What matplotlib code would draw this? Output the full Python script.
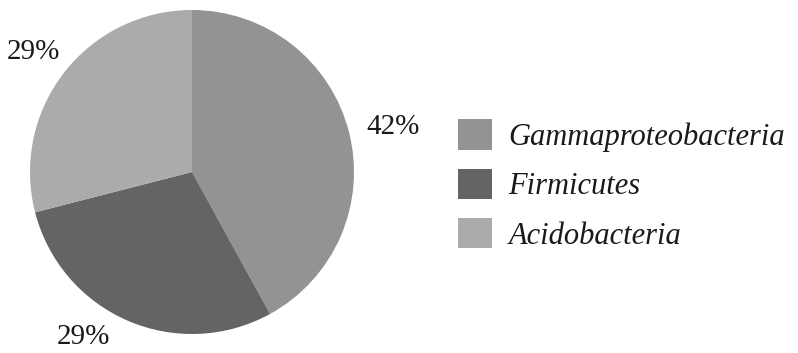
import matplotlib

matplotlib.use("Agg")
import matplotlib.pyplot as plt
from matplotlib.patches import Patch

taxa = ["Gammaproteobacteria", "Firmicutes", "Acidobacteria"]
shares = [42, 29, 29]
colors = ["#939396", "#646466", "#ababae"]

plt.rcParams["font.family"] = ["Liberation Serif", "DejaVu Serif"]

W, H = 798, 353
fig = plt.figure(figsize=(W / 100, H / 100), dpi=100)

# pie occupies a square box in pixels: center (192, 172), radius 162
cx, cy, r = 192, 172, 162
ax = fig.add_axes([(cx - r) / W, (H - cy - r) / H, 2 * r / W, 2 * r / H])
wedges, texts, autotexts = ax.pie(
    shares,
    colors=colors,
    startangle=90,
    counterclock=False,
    autopct="%d%%",
    pctdistance=1.25,
    textprops={"fontsize": 21, "color": "#1a1a1a"},
)
ax.set_aspect("equal")
ax.set_xlim(-1, 1)
ax.set_ylim(-1, 1)

# nudge the percentage labels to their spots around the rim
label_pos = [(1.24, 0.28), (-0.67, -1.02), (-0.98, 0.74)]
for t, (x, y) in zip(autotexts, label_pos):
    t.set_position((x, y))
    t.set_clip_on(False)

handles = [Patch(facecolor=c, edgecolor="none") for c in colors]
fig.legend(
    handles,
    taxa,
    loc="center left",
    bbox_to_anchor=(446 / W, 1 - 185 / H),
    borderaxespad=0,
    frameon=False,
    prop={"style": "italic", "size": 22},
    handlelength=1.1,
    handleheight=1.15,
    handletextpad=0.55,
    labelspacing=0.55,
    labelcolor="#1a1a1a",
)

fig.savefig("out.png", dpi=100)
